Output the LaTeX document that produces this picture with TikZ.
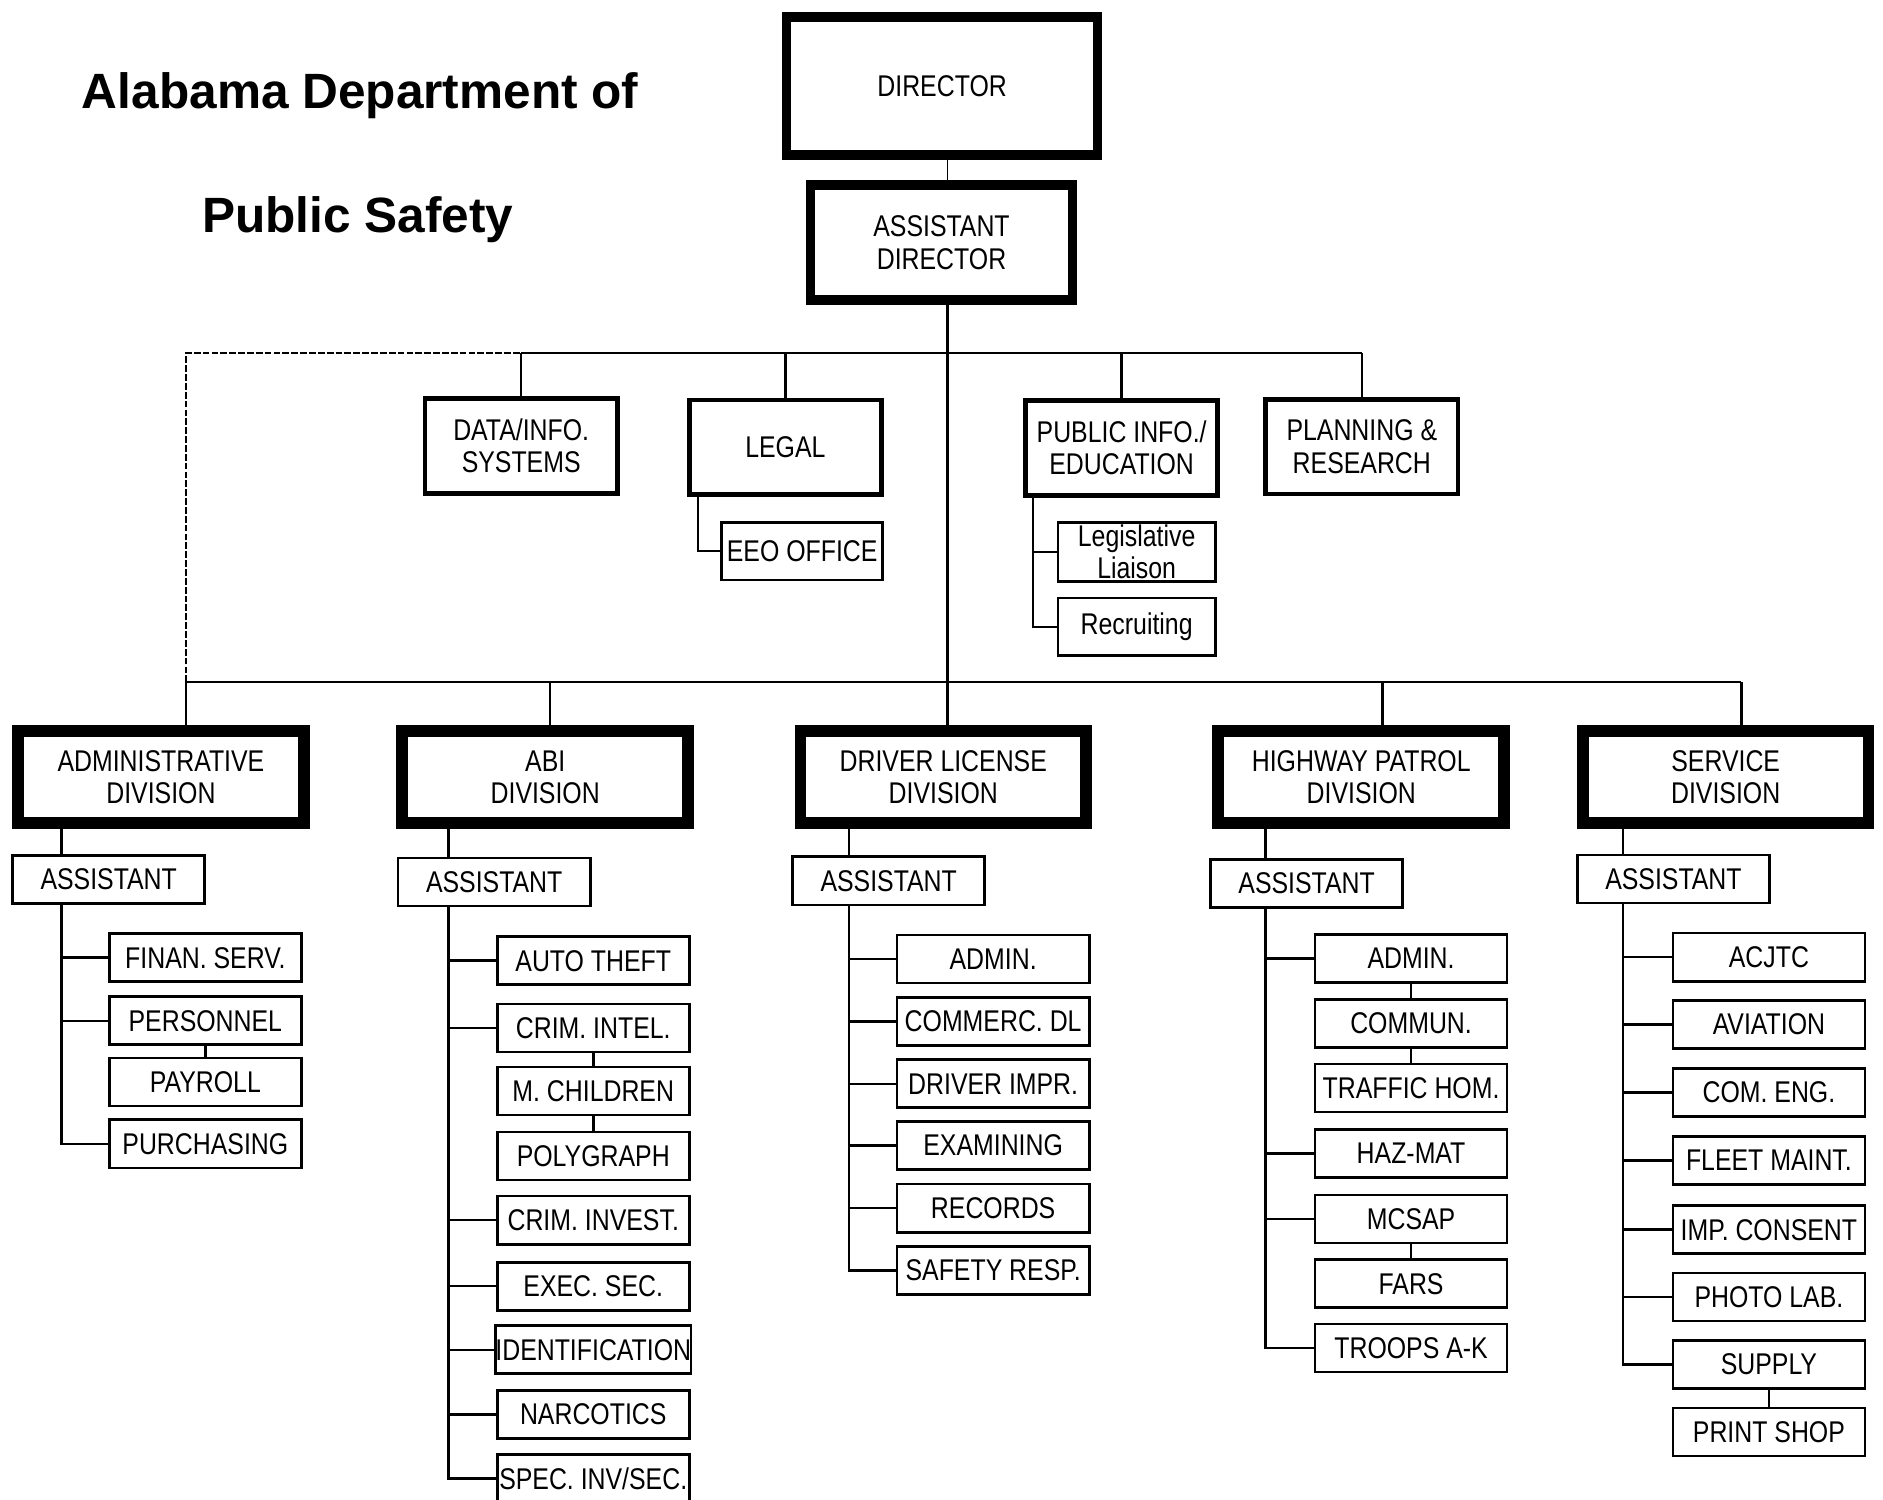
\documentclass[tikz,border=0pt]{standalone}
\usepackage{fontspec}
\setmainfont[FakeStretch=0.83]{Liberation Sans}
\newfontfamily\titlefont{Liberation Sans}
\usepackage{tikz}
\usetikzlibrary{calc}

\tikzset{
  every node/.style={font=\fontsize{14.2}{15.3}\selectfont, align=center},
  headbox/.style={draw, line width=4.5pt, inner sep=0pt},
  divbox/.style={draw, line width=5.6pt, minimum width=4.76cm, minimum height=1.52cm, inner sep=0pt},
  staffbox/.style={draw, line width=2.2pt, minimum width=3.2cm, minimum height=1.58cm, inner sep=0pt},
  subbox/.style={draw, line width=1.3pt, minimum width=2.62cm, minimum height=0.98cm, inner sep=0pt},
  asstbox/.style={draw, line width=1.3pt, minimum width=3.2cm, minimum height=0.8cm, inner sep=0pt},
  unitbox/.style={draw, line width=1.3pt, minimum width=3.2cm, minimum height=0.8cm, inner sep=0pt},
  link/.style={line width=1.2pt},
  titletext/.style={font=\titlefont\bfseries\fontsize{23.5}{28}\selectfont},
}

\begin{document}
\begin{tikzpicture}[x=0.02cm, y=-0.02cm]
  \useasboundingbox (0,0) rectangle (1568,1249);

  % title
  \node[titletext] (title1) at (300,80) {Alabama Department of};
  \node[titletext] (title2) at (298,183) {Public Safety};

  % head of department
  \node[headbox, minimum width=5.18cm, minimum height=2.3cm] (dir) at (784.5,71.5) {DIRECTOR};
  \node[headbox, minimum width=4.36cm, minimum height=1.92cm] (adir) at (784,202) {ASSISTANT\\DIRECTOR};

  % staff offices
  \node[staffbox] (data) at (434,371.5) {DATA/INFO.\\SYSTEMS};
  \node[staffbox] (legal) at (654,372.5) {LEGAL};
  \node[staffbox] (pub) at (934,373) {PUBLIC INFO./\\EDUCATION};
  \node[staffbox] (plan) at (1134,372) {PLANNING \&\\RESEARCH};
  \node[subbox, minimum width=2.68cm, minimum height=0.96cm] (eeo) at (668,459) {EEO OFFICE};
  \node[subbox] (liais) at (946.5,459.5) {Legislative\\Liaison};
  \node[subbox, minimum height=0.96cm] (recr) at (946.5,522) {Recruiting};

  % divisions
  \node[divbox] (adm) at (134,647) {ADMINISTRATIVE\\DIVISION};
  \node[divbox] (abi) at (454,647) {ABI\\DIVISION};
  \node[divbox] (dl) at (785.5,647) {DRIVER LICENSE\\DIVISION};
  \node[divbox] (hp) at (1133.5,647) {HIGHWAY PATROL\\DIVISION};
  \node[divbox] (srv) at (1437,647) {SERVICE\\DIVISION};

  \node[asstbox] (asA) at (90.5,732.5) {ASSISTANT};
  \node[asstbox] (asB) at (411.5,734.5) {ASSISTANT};
  \node[asstbox] (asC) at (740,733.5) {ASSISTANT};
  \node[asstbox] (asD) at (1088,735.5) {ASSISTANT};
  \node[asstbox] (asE) at (1393.5,732) {ASSISTANT};

  % administrative units
  \node[unitbox] (fin) at (171,797.5) {FINAN. SERV.};
  \node[unitbox] (per) at (171,850) {PERSONNEL};
  \node[unitbox] (pay) at (171,901) {PAYROLL};
  \node[unitbox] (pur) at (171,952.5) {PURCHASING};

  % abi units
  \node[unitbox] (aut) at (494,800) {AUTO THEFT};
  \node[unitbox] (cin) at (494,856) {CRIM. INTEL.};
  \node[unitbox] (mch) at (494,908.5) {M. CHILDREN};
  \node[unitbox] (pol) at (494,962.5) {POLYGRAPH};
  \node[unitbox] (civ) at (494,1016) {CRIM. INVEST.};
  \node[unitbox] (exs) at (494,1071) {EXEC. SEC.};
  \node[unitbox] (idn) at (494,1124) {IDENTIFICATION};
  \node[unitbox] (nar) at (494,1178) {NARCOTICS};
  \node[unitbox] (spi) at (494,1231) {SPEC. INV/SEC.};

  % driver license units
  \node[unitbox] (dad) at (827,798.5) {ADMIN.};
  \node[unitbox] (cdl) at (827,850.5) {COMMERC. DL};
  \node[unitbox] (dim) at (827,902.5) {DRIVER IMPR.};
  \node[unitbox] (exa) at (827,954) {EXAMINING};
  \node[unitbox] (rec) at (827,1006) {RECORDS};
  \node[unitbox] (saf) at (827,1058) {SAFETY RESP.};

  % highway patrol units
  \node[unitbox] (had) at (1175,798) {ADMIN.};
  \node[unitbox] (com) at (1175,852) {COMMUN.};
  \node[unitbox] (tra) at (1175,906) {TRAFFIC HOM.};
  \node[unitbox] (haz) at (1175,960.5) {HAZ-MAT};
  \node[unitbox] (mcs) at (1175,1015) {MCSAP};
  \node[unitbox] (far) at (1175,1069) {FARS};
  \node[unitbox] (trp) at (1175,1122.5) {TROOPS A-K};

  % service units
  \node[unitbox] (acj) at (1473,797) {ACJTC};
  \node[unitbox] (avi) at (1473,853) {AVIATION};
  \node[unitbox] (ceng) at (1473,909.5) {COM. ENG.};
  \node[unitbox] (flt) at (1473,966.5) {FLEET MAINT.};
  \node[unitbox] (imp) at (1473,1024) {IMP. CONSENT};
  \node[unitbox] (pho) at (1473,1080) {PHOTO LAB.};
  \node[unitbox] (sup) at (1473,1136) {SUPPLY};
  \node[unitbox] (prt) at (1473,1192.5) {PRINT SHOP};

  % bus lines
  \coordinate (tL) at (155,294);
  \coordinate (dA) at (155,568);
  \coordinate (dB) at (458,568);
  \coordinate (dC) at (789,568);
  \coordinate (dD) at (1151,568);
  \coordinate (dE) at (1450,568);

  \draw[line width=0.8pt] (dir.south -| dC) -- (adir.north -| dC);
  \draw[link] (adir.south -| dC) -- (dC);
  \draw[link, dash pattern=on 3.2pt off 1pt] (dA) -- (tL) -- (tL -| data.north);
  \draw[link] (tL -| data.north) -- (tL -| plan.north);
  \foreach \n in {data,legal,pub,plan}
    \draw[link] (tL -| \n.north) -- (\n.north);
  \draw[link] (dA) -- (dE);
  \draw[link] (dA) -- (dA |- adm.north);
  \draw[link] (dB) -- (dB |- abi.north);
  \draw[link] (dC) -- (dC |- dl.north);
  \draw[link] (dD) -- (dD |- hp.north);
  \draw[link] (dE) -- (dE |- srv.north);

  % staff sub-offices
  \coordinate (spL) at ($(legal.south west)+(9,0)$);
  \coordinate (spP) at ($(pub.south west)+(8,0)$);
  \draw[link] (spL) |- (eeo.west);
  \draw[link] (spP) |- (recr.west);
  \draw[link] (liais.west) -- (liais.west -| spP);

  % spines
  \coordinate (spA) at ($(asA.south west)+(42,0)$);
  \coordinate (spB) at ($(asB.south west)+(43,0)$);
  \coordinate (spC) at ($(asC.south west)+(48,0)$);
  \coordinate (spD) at ($(asD.south west)+(47,0)$);
  \coordinate (spE) at ($(asE.south west)+(39,0)$);

  \draw[link] (adm.south -| spA) -- (asA.north -| spA);
  \draw[link] (abi.south -| spB) -- (asB.north -| spB);
  \draw[link] (dl.south -| spC) -- (asC.north -| spC);
  \draw[link] (hp.south -| spD) -- (asD.north -| spD);
  \draw[link] (srv.south -| spE) -- (asE.north -| spE);

  \draw[link] (spA) |- (pur.west);
  \draw[link] (spB) |- (spi.west);
  \draw[link] (spC) |- (saf.west);
  \draw[link] (spD) |- (trp.west);
  \draw[link] (spE) |- (sup.west);

  \foreach \n in {fin,per}
    \draw[link] (\n.west) -- (\n.west -| spA);
  \foreach \n in {aut,cin,civ,exs,idn,nar}
    \draw[link] (\n.west) -- (\n.west -| spB);
  \foreach \n in {dad,cdl,dim,exa,rec}
    \draw[link] (\n.west) -- (\n.west -| spC);
  \foreach \n in {had,haz,mcs}
    \draw[link] (\n.west) -- (\n.west -| spD);
  \foreach \n in {acj,avi,ceng,flt,imp,pho}
    \draw[link] (\n.west) -- (\n.west -| spE);

  % stacked units
  \draw[link] (per.south) -- (pay.north);
  \draw[link] (cin.south) -- (mch.north);
  \draw[link] (mch.south) -- (pol.north);
  \draw[link] (had.south) -- (com.north);
  \draw[link] (com.south) -- (tra.north);
  \draw[link] (mcs.south) -- (far.north);
  \draw[link] (sup.south) -- (prt.north);
\end{tikzpicture}
\end{document}
